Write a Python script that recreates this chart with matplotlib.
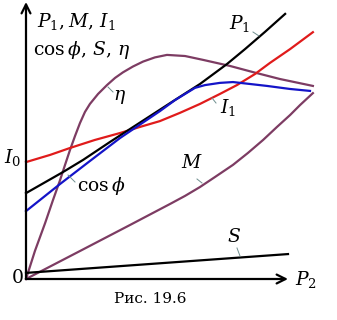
import matplotlib
matplotlib.use("Agg")
import matplotlib.pyplot as plt

plt.rcParams['mathtext.fontset'] = 'dejavuserif'
plt.rcParams['font.family'] = ['DejaVu Serif']

# Data (arbitrary units, P2 axis 0..10, ordinate 0..10)
p1_x = [0, 1.41, 2.18, 3.21, 5.50, 6.64, 7.67, 8.36, 9.12, 9.89]
p1_y = [3.10, 3.86, 4.30, 4.95, 6.35, 7.04, 7.76, 8.30, 8.92, 9.57]

cos_x = [0, 1.30, 2.44, 3.59, 5.11, 5.69, 6.07, 6.45, 6.83, 7.40, 7.90, 8.55, 9.20, 10.08, 10.84]
cos_y = [2.45, 3.43, 4.26, 5.09, 6.06, 6.46, 6.68, 6.90, 7.00, 7.08, 7.11, 7.04, 6.97, 6.86, 6.79]

i1_x = [0, 0.92, 1.68, 2.63, 3.59, 4.35, 5.11, 5.88, 6.64, 7.40, 8.05, 8.74, 9.31, 10.08, 10.95]
i1_y = [4.22, 4.48, 4.73, 5.02, 5.27, 5.49, 5.70, 6.00, 6.32, 6.68, 7.00, 7.40, 7.80, 8.30, 8.91]

eta_x = [0, 0.34, 0.73, 1.03, 1.30, 1.49, 1.68, 1.87, 2.06, 2.25, 2.44, 2.75, 3.09,
         3.40, 3.70, 4.08, 4.47, 4.92, 5.38, 6.07, 6.76, 7.79, 8.66, 9.69, 10.95]
eta_y = [0, 1.01, 2.02, 2.85, 3.57, 4.12, 4.66, 5.16, 5.63, 6.03, 6.32, 6.68, 7.00,
         7.26, 7.46, 7.67, 7.85, 8.00, 8.09, 8.05, 7.91, 7.69, 7.47, 7.22, 6.97]

m_x = [0, 2.06, 3.97, 5.50, 6.07, 6.64, 7.21, 7.90, 8.47, 9.05, 9.58, 10.08, 10.46, 10.95]
m_y = [0, 1.01, 1.95, 2.71, 3.00, 3.32, 3.68, 4.12, 4.55, 5.02, 5.49, 5.92, 6.28, 6.71]

s_x = [0, 5.0, 10.0]
s_y = [0.22, 0.56, 0.90]

W, H = 337, 320
fig = plt.figure(figsize=(W / 100, H / 100), dpi=100)
ax = fig.add_axes([0, 0, 1, 1])
ax.set_xlim(-26 / 26.2, (W - 26) / 26.2)
ax.set_ylim((279 - H) / 27.7, 279 / 27.7)
ax.axis('off')

purple = '#7d3c63'
lw = 1.6
ax.plot(eta_x, eta_y, color=purple, lw=lw, solid_joinstyle='round')
ax.plot(m_x, m_y, color=purple, lw=lw, solid_joinstyle='round')
ax.plot(s_x, s_y, color='black', lw=lw)
ax.plot(i1_x, i1_y, color='#e01b1b', lw=lw, solid_joinstyle='round')
ax.plot(p1_x, p1_y, color='black', lw=lw, solid_joinstyle='round')
ax.plot(cos_x, cos_y, color='#1414c8', lw=lw, solid_joinstyle='round')

# Axes with arrows
ax.annotate('', xy=(0, 10.0), xytext=(0, 0),
            arrowprops=dict(arrowstyle='->', lw=1.6, color='black',
                            mutation_scale=16, shrinkA=0, shrinkB=0))
ax.annotate('', xy=(10.0, 0), xytext=(0, 0),
            arrowprops=dict(arrowstyle='->', lw=1.6, color='black',
                            mutation_scale=16, shrinkA=0, shrinkB=0))


def t(px, py, s, ha='center', size=13.5, **kw):
    fig.text(px / W, 1 - py / H, s, ha=ha, va='center', fontsize=size, **kw)


def leader(x0, y0, x1, y1):
    fig.add_artist(plt.Line2D([x0 / W, x1 / W], [1 - y0 / H, 1 - y1 / H],
                              color='#6f8f8f', lw=0.7))


t(37, 22, r'$P_1, M,\, I_1$', ha='left')
t(33, 50, r'$\mathrm{cos}\,\phi,\, S,\, \eta$', ha='left')
t(240, 23, r'$P_1$')
leader(253, 32, 259, 36)
t(120, 97, r'$\eta$')
leader(108, 87, 113, 92)
t(228, 107, r'$I_1$')
leader(212, 98, 216, 103)
t(192, 163, r'$M$')
leader(197, 179, 202, 183)
t(101, 186, r'$\mathrm{cos}\,\phi$')
leader(68, 175, 75, 182)
t(234, 237, r'$S$')
leader(237, 248, 240, 256)
t(13, 157, r'$I_0$')
t(17, 278, r'$0$')
t(306, 280, r'$P_2$')
t(150, 299, 'Рис. 19.6', size=11)

fig.savefig('out.png', dpi=100)
